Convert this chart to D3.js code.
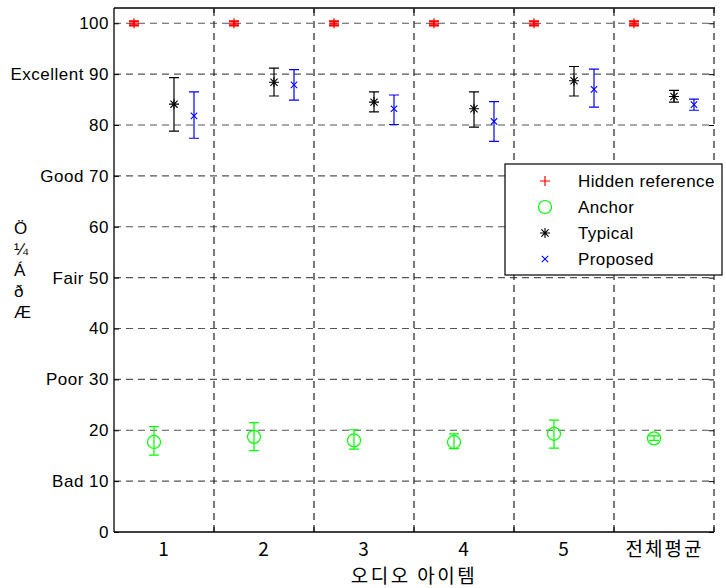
<!DOCTYPE html>
<html>
<head>
<meta charset="utf-8">
<script src="https://cdn.jsdelivr.net/npm/d3@7"></script>
<style>
  html, body { margin: 0; padding: 0; background: #fff; }
  svg { display: block; }
  text { font-family: "Liberation Sans", Arial, sans-serif; }
  .kr { font-family: "Noto Sans CJK KR", sans-serif; }
</style>
</head>
<body>
<svg id="chart" width="726" height="588"></svg>
<script>
// ---- data ----
const categories = ["1", "2", "3", "4", "5", "전체평균"];
const yTickValues = [0, 10, 20, 30, 40, 50, 60, 70, 80, 90, 100];
const yTickLabels = ["0", "Bad 10", "20", "Poor 30", "40", "Fair 50", "60", "Good 70", "80", "Excellent 90", "100"];
const seriesNames = ["Hidden reference", "Anchor", "Typical", "Proposed"];

const hiddenMean = [100, 100, 100, 100, 100, 100];
const hiddenLow  = [99.6, 99.6, 99.6, 99.6, 99.6, 99.6];
const hiddenHigh = [100.4, 100.4, 100.4, 100.4, 100.4, 100.4];

const anchorMean = [17.7, 18.7, 18.0, 17.7, 19.3, 18.4];
const anchorLow  = [15.1, 16.0, 16.3, 16.4, 16.5, 18.0];
const anchorHigh = [20.7, 21.5, 20.1, 19.3, 22.0, 18.9];

const typicalMean = [84.1, 88.4, 84.5, 83.2, 88.7, 85.6];
const typicalLow  = [78.8, 85.7, 82.6, 79.6, 85.7, 84.5];
const typicalHigh = [89.3, 91.2, 86.5, 86.5, 91.5, 86.8];

const proposedMean = [81.8, 87.9, 83.2, 80.7, 87.0, 84.0];
const proposedLow  = [77.4, 84.9, 80.1, 76.8, 83.5, 82.9];
const proposedHigh = [86.5, 90.9, 85.9, 84.6, 91.0, 85.1];

const yLabelChars = ["Ö", "¼", "Á", "ð", "Æ"];
const xTitle = "오디오 아이템";

// ---- layout ----
const svg = d3.select("#chart");
const L = 114, R = 714, T = 8, B = 532;
const x = d3.scaleLinear().domain([0.5, 6.5]).range([L, R]);
const y = d3.scaleLinear().domain([0, 103]).range([B, T]);

const series = [
  { name: seriesNames[0], mean: hiddenMean, low: hiddenLow, high: hiddenHigh, off: -0.3, color: "#ff0000", marker: "plus" },
  { name: seriesNames[1], mean: anchorMean, low: anchorLow, high: anchorHigh, off: -0.1, color: "#00ff00", marker: "circle" },
  { name: seriesNames[2], mean: typicalMean, low: typicalLow, high: typicalHigh, off: 0.1, color: "#000000", marker: "star" },
  { name: seriesNames[3], mean: proposedMean, low: proposedLow, high: proposedHigh, off: 0.3, color: "#0000ff", marker: "x" }
];

// grid lines
const grid = svg.append("g");
grid.selectAll("line.h").data(yTickValues.filter(v => v > 0)).enter().append("line")
  .attr("x1", L).attr("x2", R)
  .attr("y1", d => y(d)).attr("y2", d => y(d))
  .attr("stroke", "#555").attr("stroke-width", 1.2).attr("stroke-dasharray", "7,5");
const vGrid = [1.5, 2.5, 3.5, 4.5, 5.5, 6.5];
grid.selectAll("line.v").data(vGrid).enter().append("line")
  .attr("x1", d => x(d)).attr("x2", d => x(d))
  .attr("y1", B).attr("y2", T)
  .attr("stroke", "#222").attr("stroke-width", 1.2).attr("stroke-dasharray", "7,5");

// axes
const yAxis = d3.axisLeft(y).tickValues(yTickValues).tickSize(-5).tickPadding(5)
  .tickFormat((d, i) => yTickLabels[i]);
const gy = svg.append("g").attr("transform", `translate(${L},0)`).call(yAxis);
gy.select(".domain").remove();
gy.selectAll("text").attr("font-size", 17).attr("fill", "#000")
  .style("letter-spacing", "0.5px")
  .style("font-family", "'Liberation Sans', Arial, sans-serif");
gy.selectAll("line").attr("stroke", "#000");

const yAxisR = d3.axisRight(y).tickValues(yTickValues).tickSize(-5).tickFormat("");
const gyr = svg.append("g").attr("transform", `translate(${R},0)`).call(yAxisR);
gyr.select(".domain").remove();
gyr.selectAll("line").attr("stroke", "#000");

const xAxis = d3.axisBottom(x).tickValues([1, 2, 3, 4, 5, 6]).tickSize(0).tickPadding(11)
  .tickFormat((d, i) => categories[i]);
const gx = svg.append("g").attr("transform", `translate(0,${B})`).call(xAxis);
gx.select(".domain").remove();
gx.selectAll("text").attr("font-size", 19).attr("fill", "#000")
  .attr("class", "kr").style("letter-spacing", "2px")
  .style("font-family", "'Noto Sans CJK KR', sans-serif");

// x tick marks at boundaries (bottom and top)
svg.append("g").selectAll("line").data(vGrid).enter().append("line")
  .attr("x1", d => x(d)).attr("x2", d => x(d)).attr("y1", B).attr("y2", B - 5)
  .attr("stroke", "#000");
svg.append("g").selectAll("line").data(vGrid).enter().append("line")
  .attr("x1", d => x(d)).attr("x2", d => x(d)).attr("y1", T).attr("y2", T + 5)
  .attr("stroke", "#000");

// box: left, bottom, top solid
svg.append("line").attr("x1", L).attr("x2", L).attr("y1", T).attr("y2", B).attr("stroke", "#000").attr("stroke-width", 1.3);
svg.append("line").attr("x1", L).attr("x2", R).attr("y1", B).attr("y2", B).attr("stroke", "#000").attr("stroke-width", 1.3);
svg.append("line").attr("x1", L).attr("x2", R + 1).attr("y1", T).attr("y2", T).attr("stroke", "#000").attr("stroke-width", 1.3);

// marker drawing
function drawMarker(g, type, cx, cy, color) {
  if (type === "plus") {
    g.append("path").attr("d", `M${cx - 5},${cy}H${cx + 5}M${cx},${cy - 5}V${cy + 5}`)
      .attr("stroke", color).attr("stroke-width", 1.2).attr("fill", "none");
  } else if (type === "circle") {
    g.append("circle").attr("cx", cx).attr("cy", cy).attr("r", 6.5)
      .attr("stroke", color).attr("stroke-width", 1.2).attr("fill", "none");
  } else if (type === "star") {
    const a = 5, b = 3.6;
    g.append("path").attr("d",
      `M${cx - a},${cy}H${cx + a}M${cx},${cy - a}V${cy + a}M${cx - b},${cy - b}L${cx + b},${cy + b}M${cx - b},${cy + b}L${cx + b},${cy - b}`)
      .attr("stroke", color).attr("stroke-width", 1.1).attr("fill", "none");
  } else if (type === "x") {
    const a = 3.2;
    g.append("path").attr("d", `M${cx - a},${cy - a}L${cx + a},${cy + a}M${cx - a},${cy + a}L${cx + a},${cy - a}`)
      .attr("stroke", color).attr("stroke-width", 1.1).attr("fill", "none");
  }
}

// data marks
const marks = svg.append("g");
series.forEach(s => {
  const g = marks.append("g");
  categories.forEach((c, i) => {
    const cx = x(i + 1 + s.off);
    const yl = y(s.low[i]), yh = y(s.high[i]), ym = y(s.mean[i]);
    const cap = 5;
    g.append("path")
      .attr("d", `M${cx},${yh}V${yl}M${cx - cap},${yh}H${cx + cap}M${cx - cap},${yl}H${cx + cap}`)
      .attr("stroke", s.color).attr("stroke-width", s.marker === "plus" ? 2.2 : 1.2).attr("fill", "none");
    drawMarker(g, s.marker, cx, ym, s.color);
  });
});

// legend
const lg = svg.append("g");
const LX = 505, LY = 164, LW = 217, LH = 111;
lg.append("rect").attr("x", LX).attr("y", LY).attr("width", LW).attr("height", LH)
  .attr("fill", "#fff").attr("stroke", "#000").attr("stroke-width", 1.2);
series.forEach((s, i) => {
  const cy = LY + 17 + i * 26;
  drawMarker(lg, s.marker, LX + 40, cy, s.color);
  lg.append("text").attr("x", LX + 73).attr("y", cy + 6).attr("font-size", 17)
    .style("letter-spacing", "0.4px").text(s.name);
});

// y label (garbled stacked characters)
const yl = svg.append("g");
const yLabelY = [234, 255, 276, 297, 318];
yLabelChars.forEach((ch, i) => {
  yl.append("text").attr("x", 14).attr("y", yLabelY[i]).attr("font-size", 17).text(ch);
});

// x title
svg.append("text").attr("class", "kr").attr("x", (L + R) / 2).attr("y", 583)
  .attr("text-anchor", "middle").attr("font-size", 19)
  .style("letter-spacing", "2.5px")
  .style("font-family", "'Noto Sans CJK KR', sans-serif").text(xTitle);
</script>
</body>
</html>
